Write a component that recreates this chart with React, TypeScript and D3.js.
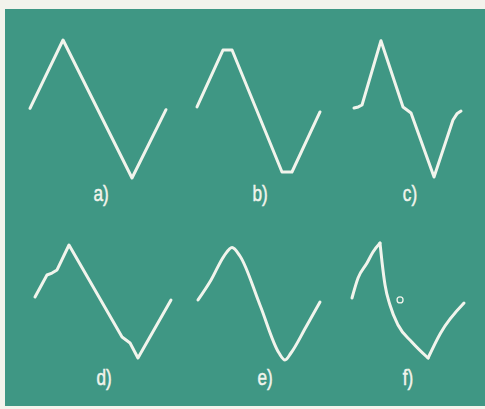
import React from "react";
import * as d3 from "d3";

// waveform shapes, one period each: [phase 0..1, level -1..1]
const labels = ["a)", "b)", "c)", "d)", "e)", "f)"];

const waveA: [number, number][] = [[0, 0.01], [0.243, 1], [0.75, -1], [1, -0.01]];
const waveB: [number, number][] = [
  [0, 0.03], [0.211, 0.855], [0.285, 0.855], [0.691, -0.913], [0.772, -0.913], [1, -0.043],
];
const waveC: [number, number][] = [
  [0, 0.014], [0.04, 0.03], [0.075, 0.058], [0.252, 0.99], [0.458, 0.03], [0.533, -0.058],
  [0.748, -0.986], [0.925, -0.16], [0.962, -0.07], [1, -0.03],
];
const waveD: [number, number][] = [
  [0, 0.08], [0.088, 0.469], [0.125, 0.504], [0.162, 0.558], [0.25, 1],
  [0.64, -0.628], [0.699, -0.735], [0.757, -1], [1, 0.027],
];
const waveE: [number, number][] = [
  [0, 0.027], [0.107, 0.381], [0.213, 0.805], [0.279, 0.956], [0.344, 0.805], [0.508, -0.062],
  [0.664, -0.912], [0.713, -1.035], [0.762, -0.912], [0.885, -0.451], [1, -0.009],
];
const waveFRise: [number, number][] = [
  [0, 0.062], [0.054, 0.416], [0.134, 0.681], [0.1875, 0.876], [0.25, 1.035],
];
const waveFFall: [number, number][] = [
  [0.25, 1.035], [0.268, 0.699], [0.295, 0.292], [0.339, -0.062], [0.411, -0.416],
  [0.536, -0.72], [0.679, -1.0],
];
const waveFReturn: [number, number][] = [[0.679, -1.0], [0.79, -0.56], [1, -0.027]];
const markerF: [number, number] = [0.429, 0.027];

const W = 485;
const H = 409;
const teal = "#3f9784";
const ink = "#f1f4ec";

const rows = [
  { y: d3.scaleLinear().domain([-1, 1]).range([178, 40]), labelY: 201 },
  { y: d3.scaleLinear().domain([-1, 1]).range([358, 245]), labelY: 385 },
];

const panels = [
  { segs: [waveA], curve: d3.curveLinear, x: [30, 166], row: 0, lx: 101 },
  { segs: [waveB], curve: d3.curveLinear, x: [197, 320], row: 0, lx: 260 },
  { segs: [waveC], curve: d3.curveLinear, x: [354, 461], row: 0, lx: 410 },
  { segs: [waveD], curve: d3.curveLinear, x: [35, 171], row: 1, lx: 104 },
  { segs: [waveE], curve: d3.curveMonotoneX, x: [198, 320], row: 1, lx: 265 },
  { segs: [waveFRise, waveFFall, waveFReturn], curve: d3.curveMonotoneX, x: [352, 464], row: 1, lx: 408 },
];

export default function App() {
  return (
    <svg width={W} height={H} style={{ position: "absolute", left: 0, top: 0, background: "#f3f3ec" }}>
      <rect x={5} y={9} width={W - 5} height={397} fill={teal} />
      {panels.map((p, i) => {
        const x = d3.scaleLinear().domain([0, 1]).range(p.x);
        const y = rows[p.row].y;
        const line = d3.line<[number, number]>().x(d => x(d[0])).y(d => y(d[1])).curve(p.curve);
        return (
          <g key={i}>
            {p.segs.map((s, j) => (
              <path key={j} d={line(s) || ""} fill="none" stroke={ink} strokeWidth={3}
                strokeLinecap="round" strokeLinejoin="round" />
            ))}
            {i === 5 && (
              <circle cx={x(markerF[0])} cy={y(markerF[1])} r={3} fill="none" stroke={ink} strokeWidth={1.3} />
            )}
            <text transform={`translate(${p.lx},${rows[p.row].labelY}) scale(0.78,1)`} textAnchor="middle"
              fill={ink} fontFamily="'Liberation Sans', Arial, sans-serif" fontSize={22}
              stroke={ink} strokeWidth={0.5}>
              {labels[i]}
            </text>
          </g>
        );
      })}
    </svg>
  );
}
